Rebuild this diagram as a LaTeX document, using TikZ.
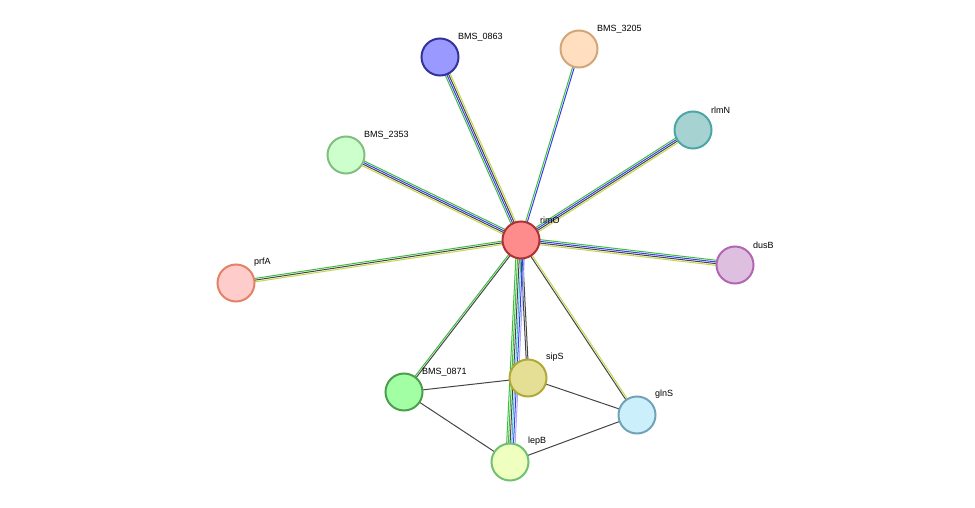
\documentclass[tikz,border=0pt]{standalone}
\usepackage{fontspec}
\setmainfont{Liberation Sans}
\usetikzlibrary{calc}
\definecolor{eg}{HTML}{3DBE3D}
\definecolor{eb}{HTML}{3A3AF0}
\definecolor{ey}{HTML}{C4D84A}
\definecolor{ek}{HTML}{454545}
\definecolor{ec}{HTML}{3ABFCF}
\definecolor{el}{HTML}{A8A8FF}
\newcommand{\bundle}[3]{%
  \foreach \c [count=\i] in {#3} {\xdef\nlines{\i}}%
  \foreach \c [count=\i] in {#3} {%
    \pgfmathsetmacro{\off}{(\i-(\nlines+1)/2)*1.7}%
    \draw[\c, line width=1pt] ($(#1)!\off pt!90:(#2)$) -- ($(#2)!\off pt!-90:(#1)$);
  }}
\begin{document}
\begin{tikzpicture}[x=1pt,y=-1pt,
    prot/.style={circle, minimum size=37pt, inner sep=0pt, line width=2pt},
    lbl/.style={font=\fontsize{9}{10}\selectfont, inner sep=1pt}]
  \useasboundingbox (0,0) rectangle (975,508);
  % node centres
  \coordinate (rimO) at (521,240);
  \coordinate (b0863) at (440,57);
  \coordinate (b3205) at (579,49);
  \coordinate (rlmN) at (693,130);
  \coordinate (b2353) at (346,155);
  \coordinate (dusB) at (735,265);
  \coordinate (prfA) at (236,283);
  \coordinate (b0871) at (404,392);
  \coordinate (sipS) at (528,378);
  \coordinate (glnS) at (637,415);
  \coordinate (lepB) at (510,462);
  % edges
  \bundle{rimO}{b0863}{ey,ek,eb,eg}
  \bundle{rimO}{b3205}{eb,eg}
  \bundle{rimO}{rlmN}{ey,ek,eb,eg}
  \bundle{rimO}{b2353}{eg,eb,ek,ey}
  \bundle{rimO}{dusB}{ey,ek,eb,eg}
  \bundle{rimO}{prfA}{eg,ek,ey}
  \bundle{rimO}{b0871}{eg,ek}
  \bundle{rimO}{sipS}{ek,ek}
  \bundle{rimO}{lepB}{eg,eg,ek,ec,eb,el}
  \bundle{rimO}{glnS}{ek,ey}
  \bundle{b0871}{sipS}{ek}
  \bundle{b0871}{lepB}{ek}
  \bundle{sipS}{glnS}{ek}
  \bundle{lepB}{glnS}{ek}
  % proteins
  \node[prot, draw=red!60!black!80, fill=red!45] (nrimO) at (rimO) {};
  \node[prot, draw=blue!50!black!80, fill=blue!40!white] (n0863) at (b0863) {};
  \node[prot, draw=brown!70, fill=orange!25] (n3205) at (b3205) {};
  \node[prot, draw=teal!70, fill=teal!35] (nrlmN) at (rlmN) {};
  \node[prot, draw=green!50!black!50, fill=green!20] (n2353) at (b2353) {};
  \node[prot, draw=violet!60, fill=violet!25] (ndusB) at (dusB) {};
  \node[prot, draw=red!40!brown!70, fill=red!20] (nprfA) at (prfA) {};
  \node[prot, draw=green!45!black!70, fill=green!40!white!90] (n0871) at (b0871) {};
  \node[prot, draw=olive!70, fill=yellow!30!olive!35] (nsipS) at (sipS) {};
  \node[prot, draw=cyan!40!gray, fill=cyan!20] (nglnS) at (glnS) {};
  \node[prot, draw=green!40!gray!80, fill=lime!25] (nlepB) at (lepB) {};
  % labels
  \node[lbl, anchor=south west] at (539,225) {rimO};
  \node[lbl, anchor=south west] at (457,42) {BMS\_0863};
  \node[lbl, anchor=south west] at (596,34) {BMS\_3205};
  \node[lbl, anchor=south west] at (710,115) {rlmN};
  \node[lbl, anchor=south west] at (363,140) {BMS\_2353};
  \node[lbl, anchor=south west] at (752,250) {dusB};
  \node[lbl, anchor=south west] at (253,268) {prfA};
  \node[lbl, anchor=south west] at (421,377) {BMS\_0871};
  \node[lbl, anchor=south west] at (545,363) {sipS};
  \node[lbl, anchor=south west] at (654,400) {glnS};
  \node[lbl, anchor=south west] at (527,447) {lepB};
\end{tikzpicture}
\end{document}
